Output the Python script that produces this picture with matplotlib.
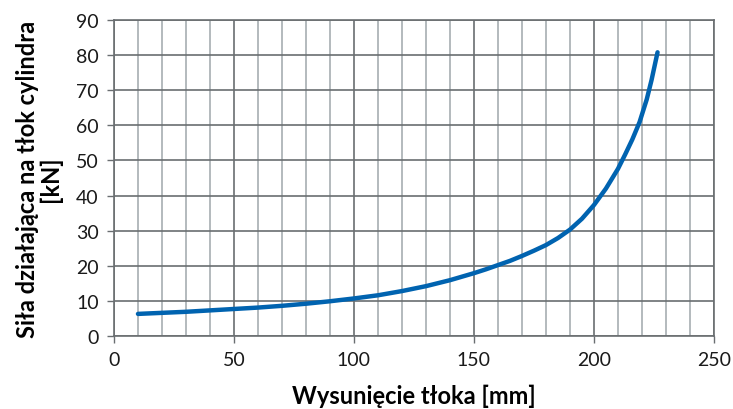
import matplotlib
matplotlib.use("Agg")
import matplotlib.pyplot as plt
from matplotlib.ticker import MultipleLocator

plt.rcParams['font.family'] = ['Lato', 'DejaVu Sans']

# Piston extension [mm] and resulting force on the cylinder piston [kN]
extension_mm = [10, 20, 30, 40, 50, 60, 70, 80, 90, 100, 110, 120, 130, 140,
                150, 155, 160, 165, 170, 175, 180, 185, 190, 195, 200, 205,
                210, 213, 216, 219, 222, 224, 226.5]
force_kN = [6.3, 6.6, 6.9, 7.3, 7.7, 8.1, 8.6, 9.2, 9.9, 10.7, 11.6, 12.8, 14.2,
            15.9, 17.9, 19.0, 20.2, 21.4, 22.8, 24.3, 25.9, 27.9, 30.3, 33.4,
            37.3, 42.0, 47.6, 51.7, 56.0, 60.9, 67.4, 72.9, 80.8]

x_label = "Wysunięcie tłoka [mm]"
y_label = "Siła działająca na tłok cylindra\n[kN]"

fig = plt.figure(figsize=(7.33, 4.10), dpi=100)
ax = fig.add_axes([0.1555, 0.178, 0.8185, 0.7708])

ax.set_xlim(0, 250)
ax.set_ylim(0, 90)
ax.xaxis.set_major_locator(MultipleLocator(50))
ax.xaxis.set_minor_locator(MultipleLocator(10))
ax.yaxis.set_major_locator(MultipleLocator(10))

light = "#a7aeb2"
dark = "#6a6e71"
ax.grid(which="minor", axis="x", color=light, linewidth=1.2)
ax.grid(which="major", axis="x", color=dark, linewidth=1.2)
ax.grid(which="major", axis="y", color=dark, linewidth=1.2)
ax.set_axisbelow(True)

for s in ax.spines.values():
    s.set_color(dark)
    s.set_linewidth(1.2)

ax.tick_params(which="major", direction="out", length=5, width=1.0,
               color=dark, labelsize=14, labelcolor="#1a1a1a", pad=6)
ax.tick_params(which="minor", length=0)

ax.plot(extension_mm, force_kN, color="#0063b0", linewidth=3.2,
        solid_capstyle="round", solid_joinstyle="round")

ax.set_xlabel(x_label, fontsize=17, fontweight="bold", labelpad=11)
ax.set_ylabel(y_label, fontsize=17, fontweight="bold", labelpad=10,
              linespacing=1.0)

fig.savefig("out.png", dpi=100)
